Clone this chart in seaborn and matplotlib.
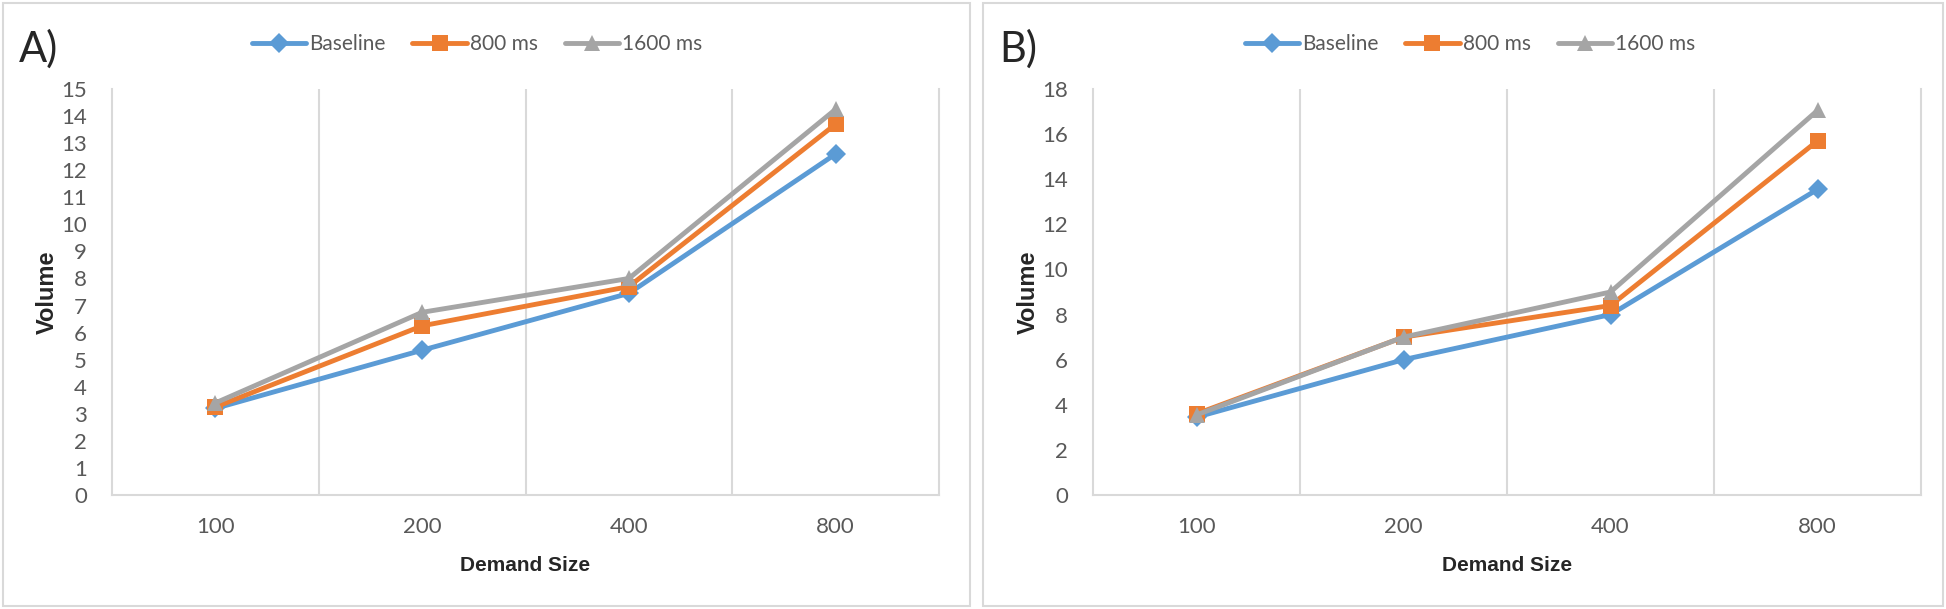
import numpy as np
import pandas as pd
import seaborn as sns
import matplotlib.pyplot as plt
from matplotlib.lines import Line2D
from matplotlib.patches import Rectangle

demand = ["100", "200", "400", "800"]
series = ["Baseline", "800 ms", "1600 ms"]

a_baseline = [3.2, 5.35, 7.45, 12.6]
a_800 = [3.25, 6.25, 7.7, 13.7]
a_1600 = [3.4, 6.75, 8.0, 14.25]

b_baseline = [3.45, 6.0, 8.0, 13.55]
b_800 = [3.6, 7.0, 8.4, 15.7]
b_1600 = [3.55, 7.0, 9.0, 17.05]

colors = {"Baseline": "#5B9BD5", "800 ms": "#ED7D31", "1600 ms": "#A5A5A5"}
markers = {"Baseline": "D", "800 ms": "s", "1600 ms": "^"}
msizes = {"Baseline": 10, "800 ms": 11, "1600 ms": 12}


def long_form(base, m800, m1600):
    rows = []
    for name, vals in zip(series, [base, m800, m1600]):
        for d, v in zip(demand, vals):
            rows.append({"Demand Size": d, "Volume": v, "Condition": name})
    return pd.DataFrame(rows)


sns.set_style("white")
plt.rcParams["font.family"] = ["Lato", "DejaVu Sans"]

W, H = 1946, 609
fig = plt.figure(figsize=(W / 100, H / 100), dpi=100)


def panel(frame_x0, frame_x1, ax_x0, ax_x1, df, ymax, ystep, letter, leg_x):
    # grey frame round each panel
    fig.patches.append(Rectangle((frame_x0 / W, 3 / H), (frame_x1 - frame_x0) / W, (H - 6) / H,
                                 transform=fig.transFigure, fill=False, ec="#D9D9D9", lw=1.5))
    ax = fig.add_axes([ax_x0 / W, 1 - 495 / H, (ax_x1 - ax_x0) / W, 406 / H])
    for name in series:
        sub = df[df["Condition"] == name]
        sns.lineplot(data=sub, x="Demand Size", y="Volume", color=colors[name],
                     marker=markers[name], markersize=msizes[name], markeredgewidth=0,
                     linewidth=3.5, ax=ax, legend=False, sort=False)
    ax.set_xlim(-0.5, 3.5)
    ax.set_ylim(0, ymax)
    ax.set_yticks(np.arange(0, ymax + 0.1, ystep))
    ax.set_xticks(range(len(demand)))
    ax.set_xticklabels(demand)
    ax.set_xticks([0.5, 1.5, 2.5], minor=True)
    ax.grid(True, which="minor", axis="x", color="#D9D9D9", lw=1.5)
    ax.grid(False, which="major")
    for s in ["left", "right", "bottom"]:
        ax.spines[s].set_color("#D9D9D9")
        ax.spines[s].set_linewidth(1.5)
    ax.spines["top"].set_visible(False)
    ax.tick_params(axis="both", which="both", length=0, labelsize=16, labelcolor="#595959")
    ax.tick_params(axis="y", pad=18)
    ax.tick_params(axis="x", pad=16)
    ax.set_xlabel("Demand Size", fontsize=15, fontweight="bold", family="Liberation Sans")
    ax.set_ylabel("Volume", fontsize=17, fontweight="bold", family="Liberation Sans")
    ax.xaxis.set_label_coords(0.5, -0.15)
    ax.yaxis.set_label_coords(-0.064, 0.5)
    fig.text((frame_x0 + 16) / W, 1 - 49 / H, letter, fontsize=30, va="center", ha="left")
    handles = [Line2D([], [], color=colors[n], marker=markers[n], markersize=msizes[n],
                      markeredgewidth=0, lw=3.5) for n in series]
    fig.legend(handles, series, loc="center", bbox_to_anchor=(leg_x / W, 1 - 44 / H),
               bbox_transform=fig.transFigure, ncol=3, frameon=False, fontsize=15,
               handlelength=2.6, handletextpad=0.15, columnspacing=1.3, labelcolor="#595959")
    return ax


panel(3, 970, 112, 939, long_form(a_baseline, a_800, a_1600), 15, 1, "A)", 477)
panel(983, 1943, 1093, 1921, long_form(b_baseline, b_800, b_1600), 18, 2, "B)", 1470)

fig.savefig("out.png", dpi=100)
